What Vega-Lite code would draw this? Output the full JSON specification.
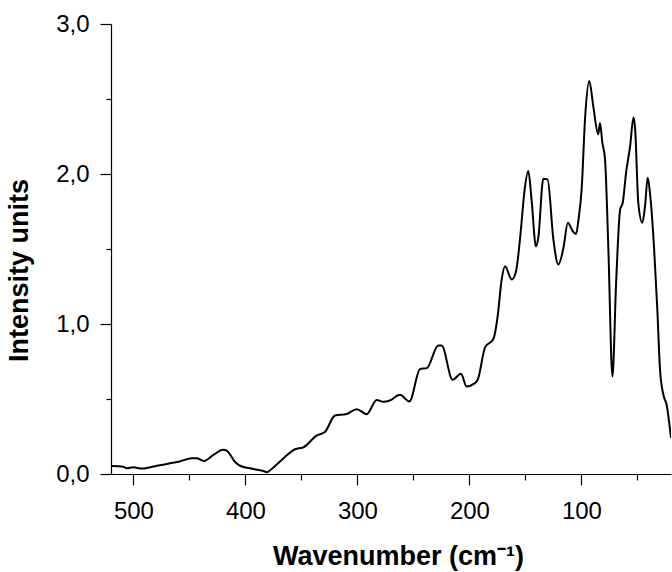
{
  "$schema": "https://vega.github.io/schema/vega-lite/v6.json",
  "autosize": "none",
  "width": 560,
  "height": 450,
  "padding": {"left": 111, "top": 24, "right": 1, "bottom": 98},
  "background": "white",
  "config": {
    "view": {"stroke": null},
    "font": "Liberation Sans",
    "axis": {
      "grid": false,
      "domainColor": "black",
      "domainWidth": 1.2,
      "tickColor": "black",
      "tickWidth": 1.2,
      "labelColor": "black",
      "titleColor": "black",
      "labelFont": "Liberation Sans",
      "titleFont": "Liberation Sans",
      "labelFontSize": 24,
      "titleFontSize": 27,
      "titleFontWeight": "bold"
    }
  },
  "data": {
    "values": [
      {"wn": 519.4, "intensity": 0.053},
      {"wn": 509, "intensity": 0.049},
      {"wn": 506, "intensity": 0.038},
      {"wn": 500, "intensity": 0.045},
      {"wn": 492.6, "intensity": 0.036},
      {"wn": 485, "intensity": 0.045},
      {"wn": 477.8, "intensity": 0.056},
      {"wn": 467.3, "intensity": 0.071},
      {"wn": 458, "intensity": 0.085},
      {"wn": 448, "intensity": 0.105},
      {"wn": 443.5, "intensity": 0.105},
      {"wn": 437, "intensity": 0.087},
      {"wn": 428.6, "intensity": 0.127},
      {"wn": 419.8, "intensity": 0.162},
      {"wn": 416.7, "intensity": 0.156},
      {"wn": 409, "intensity": 0.078},
      {"wn": 404.8, "intensity": 0.055},
      {"wn": 396, "intensity": 0.038},
      {"wn": 384, "intensity": 0.02},
      {"wn": 380.5, "intensity": 0.012},
      {"wn": 378, "intensity": 0.025},
      {"wn": 367.6, "intensity": 0.094},
      {"wn": 355.7, "intensity": 0.165},
      {"wn": 348.3, "intensity": 0.178},
      {"wn": 336.4, "intensity": 0.256},
      {"wn": 329, "intensity": 0.28},
      {"wn": 320, "intensity": 0.39},
      {"wn": 309.6, "intensity": 0.4},
      {"wn": 300.6, "intensity": 0.432},
      {"wn": 291.7, "intensity": 0.399},
      {"wn": 282.8, "intensity": 0.494},
      {"wn": 276.9, "intensity": 0.481},
      {"wn": 271, "intensity": 0.49},
      {"wn": 262, "intensity": 0.528},
      {"wn": 253.6, "intensity": 0.483},
      {"wn": 244, "intensity": 0.7},
      {"wn": 238, "intensity": 0.706},
      {"wn": 227.8, "intensity": 0.857},
      {"wn": 224.8, "intensity": 0.857},
      {"wn": 215, "intensity": 0.628},
      {"wn": 207.5, "intensity": 0.668},
      {"wn": 202.5, "intensity": 0.583},
      {"wn": 196.5, "intensity": 0.599},
      {"wn": 192.6, "intensity": 0.628},
      {"wn": 186, "intensity": 0.844},
      {"wn": 178.6, "intensity": 0.9},
      {"wn": 174.8, "intensity": 1.05},
      {"wn": 171.2, "intensity": 1.296},
      {"wn": 168.2, "intensity": 1.385},
      {"wn": 162.2, "intensity": 1.296},
      {"wn": 158.4, "intensity": 1.35},
      {"wn": 154, "intensity": 1.63},
      {"wn": 151, "intensity": 1.875},
      {"wn": 147.4, "intensity": 2.02},
      {"wn": 144.4, "intensity": 1.82},
      {"wn": 140.6, "intensity": 1.518},
      {"wn": 138.5, "intensity": 1.574},
      {"wn": 134, "intensity": 1.969},
      {"wn": 130.2, "intensity": 1.964},
      {"wn": 125, "intensity": 1.563},
      {"wn": 120.6, "intensity": 1.396},
      {"wn": 116, "intensity": 1.508},
      {"wn": 112.1, "intensity": 1.675},
      {"wn": 107.8, "intensity": 1.62},
      {"wn": 104.8, "intensity": 1.6},
      {"wn": 102.5, "intensity": 1.7},
      {"wn": 99.8, "intensity": 1.897},
      {"wn": 96.6, "intensity": 2.387},
      {"wn": 93, "intensity": 2.62},
      {"wn": 89.4, "intensity": 2.453},
      {"wn": 85, "intensity": 2.264},
      {"wn": 83.4, "intensity": 2.34},
      {"wn": 81.3, "intensity": 2.21},
      {"wn": 78.9, "intensity": 2.098},
      {"wn": 75.9, "intensity": 1.496},
      {"wn": 72.3, "intensity": 0.65},
      {"wn": 69, "intensity": 1.274},
      {"wn": 65.4, "intensity": 1.764},
      {"wn": 63.1, "intensity": 1.808},
      {"wn": 60.1, "intensity": 2.009},
      {"wn": 56.5, "intensity": 2.186},
      {"wn": 53.5, "intensity": 2.376},
      {"wn": 52, "intensity": 2.298},
      {"wn": 49.2, "intensity": 1.808},
      {"wn": 45.6, "intensity": 1.675},
      {"wn": 43.2, "intensity": 1.786},
      {"wn": 40.8, "intensity": 1.975},
      {"wn": 38.8, "intensity": 1.875},
      {"wn": 35.2, "intensity": 1.518},
      {"wn": 32.2, "intensity": 1.096},
      {"wn": 29.8, "intensity": 0.695},
      {"wn": 26.8, "intensity": 0.528},
      {"wn": 23.9, "intensity": 0.461},
      {"wn": 20, "intensity": 0.24}
    ]
  },
  "mark": {"type": "line", "color": "black", "strokeWidth": 2, "interpolate": "monotone", "clip": true},
  "encoding": {
    "x": {
      "field": "wn",
      "type": "quantitative",
      "scale": {"domain": [520, 20], "nice": false, "zero": false},
      "axis": {
        "title": "Wavenumber (cm⁻¹)",
        "values": [500, 450, 400, 350, 300, 250, 200, 150, 100, 50],
        "labelExpr": "datum.value % 100 === 0 ? format(datum.value, 'd') : ''",
        "tickSize": {"condition": {"test": "datum.value % 100 === 0", "value": 11}, "value": 6},
        "labelPadding": 14,
        "labelFlush": false,
        "labelOverlap": false,
        "titleX": 287,
        "titleY": 90,
        "titleBaseline": "alphabetic",
        "titleAnchor": "middle"
      }
    },
    "y": {
      "field": "intensity",
      "type": "quantitative",
      "scale": {"domain": [0, 3], "nice": false},
      "axis": {
        "title": "Intensity units",
        "values": [0, 0.5, 1, 1.5, 2, 2.5, 3],
        "labelExpr": "datum.value % 1 === 0 ? replace(format(datum.value, '.1f'), '.', ',') : ''",
        "tickSize": {"condition": {"test": "datum.value % 1 === 0", "value": 11}, "value": 5},
        "labelPadding": 11,
        "labelFlush": false,
        "labelOverlap": false,
        "titleX": -84,
        "titleY": 246,
        "titleAngle": -90,
        "titleAlign": "center",
        "titleBaseline": "alphabetic"
      }
    }
  }
}
